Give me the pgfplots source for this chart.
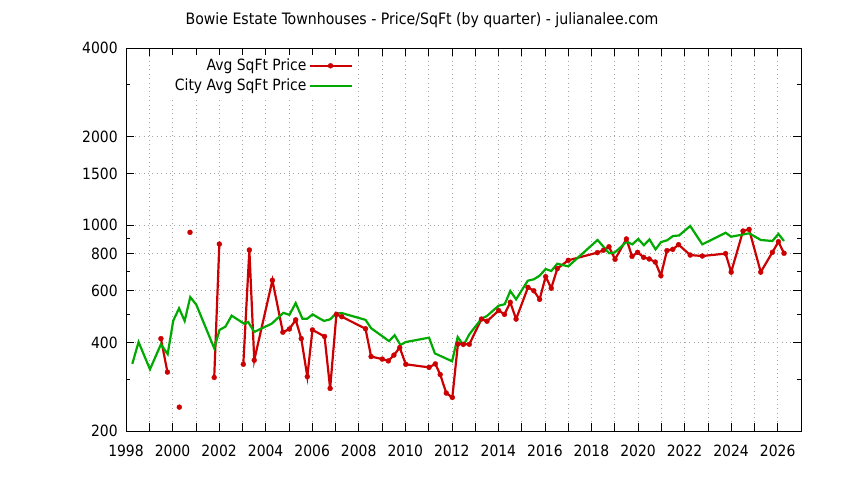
\documentclass[border=0pt]{standalone}
\usepackage{fontspec}
\setmainfont{DejaVu Sans Condensed}
\usepackage{pgfplots}
\pgfplotsset{compat=1.18}
\definecolor{gred}{RGB}{204,0,0}
\definecolor{ggreen}{RGB}{0,170,0}
\pgfplotstableread{
x y
1999.50 412
1999.78 317
nan nan
2000.29 241
nan nan
2000.75 946
nan nan
2001.79 304
2002.01 863
nan nan
2003.04 337
2003.30 824
2003.51 348
2004.29 650
2004.74 433
2005.02 444
2005.29 477
2005.53 412
2005.79 306
2006.01 441
2006.53 419
2006.77 279
2007.04 498
2007.27 489
2008.29 445
2008.53 358
2009.01 351
2009.27 346
2009.51 362
2009.76 384
2010.02 337
2011.02 329
2011.29 338
2011.50 311
2011.76 269
2012.02 260
2012.26 395
2012.49 394
2012.75 394
2013.27 480
2013.51 472
2014.01 513
2014.26 498
2014.51 547
2014.76 480
2015.27 615
2015.52 599
2015.77 560
2016.03 669
2016.27 611
2016.53 712
2017.00 760
2018.25 807
2018.51 822
2018.75 845
2019.01 766
2019.50 898
2019.74 784
2019.98 809
2020.24 778
2020.48 768
2020.74 750
2020.98 674
2021.24 820
2021.49 828
2021.74 859
2022.24 792
2022.76 786
2023.76 801
2024.00 693
2024.51 956
2024.77 968
2025.27 693
2025.77 809
2026.03 879
2026.27 803
}\avgdata
\pgfplotstableread{
x y
1998.27 338
1998.54 401
1999.03 324
1999.50 394
1999.79 365
2000.03 474
2000.28 522
2000.52 473
2000.76 570
2001.02 537
2001.79 382
2002.02 441
2002.27 452
2002.54 493
2003.07 463
2003.25 469
2003.51 434
2004.26 463
2004.76 504
2005.02 496
2005.29 544
2005.58 481
2005.78 481
2006.02 498
2006.26 485
2006.51 473
2006.77 479
2007.02 501
2007.27 503
2008.29 477
2008.53 447
2009.30 404
2009.54 423
2009.79 392
2010.02 401
2011.02 415
2011.27 367
2012.01 345
2012.25 417
2012.50 391
2012.75 426
2013.27 481
2013.51 492
2014.01 533
2014.27 539
2014.51 598
2014.76 560
2015.26 648
2015.52 655
2015.77 674
2016.03 710
2016.27 699
2016.53 740
2017.00 725
2018.26 891
2018.76 803
2019.01 809
2019.51 879
2019.75 861
2020.01 898
2020.25 855
2020.49 895
2020.75 828
2020.99 877
2021.25 889
2021.50 919
2021.76 923
2022.24 994
2022.76 861
2023.76 943
2024.00 914
2024.78 939
2025.27 891
2025.77 884
2026.03 934
2026.27 884
}\citydata
\begin{document}
\fontsize{15.5pt}{19pt}\selectfont
\begin{tikzpicture}[x=1pt,y=1pt]
\useasboundingbox (0,0) rectangle (844,480);
\node[font=\fontsize{15.7pt}{19pt}\selectfont] at (422,460) {Bowie Estate Townhouses - Price/SqFt (by quarter) - julianalee.com};
\begin{axis}[
  at={(126pt,49pt)}, anchor=south west,
  scale only axis, width=675pt, height=383pt,
  xmin=1998, xmax=2027,
  ymode=log, ymin=200, ymax=4000,
  xtick={1998,1999,...,2027},
  xticklabels={1998,,2000,,2002,,2004,,2006,,2008,,2010,,2012,,2014,,2016,,2018,,2020,,2022,,2024,,2026,,},
  ytick={200,400,600,800,1000,1500,2000,4000},
  yticklabels={200,400,600,800,1000,1500,2000,4000},
  minor ytick={300,500,700,900,3000},
  xmajorgrids=true, ymajorgrids=true,
  major grid style={gray!70, line width=0.6pt, dash pattern=on 0.8pt off 3.6pt},
  major tick length=8pt, minor tick length=4pt,
  tick style={black, line width=0.6pt},
  axis line style={black, line width=0.8pt},
  tick label style={font=\fontsize{15.5pt}{19pt}\selectfont},
  xticklabel style={yshift=-9pt},
  yticklabel style={xshift=-3pt},
  unbounded coords=jump,
  legend plot pos=right,
  legend cell align=right,
  legend image code/.code={\draw[mark repeat=2,mark phase=2] plot coordinates {(0pt,0pt) (21pt,0pt) (42pt,0pt)};},
  legend style={draw=none, fill=white, at={(0.339,0.983)}, anchor=north east,
    font=\fontsize{15.5pt}{19pt}\selectfont, row sep=2pt, inner sep=2pt},
]
\addplot[gred, line width=2.2pt, mark=*, mark size=2.5pt, mark options={solid, line width=0.3pt}] table[x=x,y=y] {\avgdata};
\addlegendentry{Avg SqFt Price}
\addplot[ggreen, line width=2.2pt, no marks] table[x=x,y=y] {\citydata};
\addlegendentry{City Avg SqFt Price}
\end{axis}
\end{tikzpicture}
\end{document}
